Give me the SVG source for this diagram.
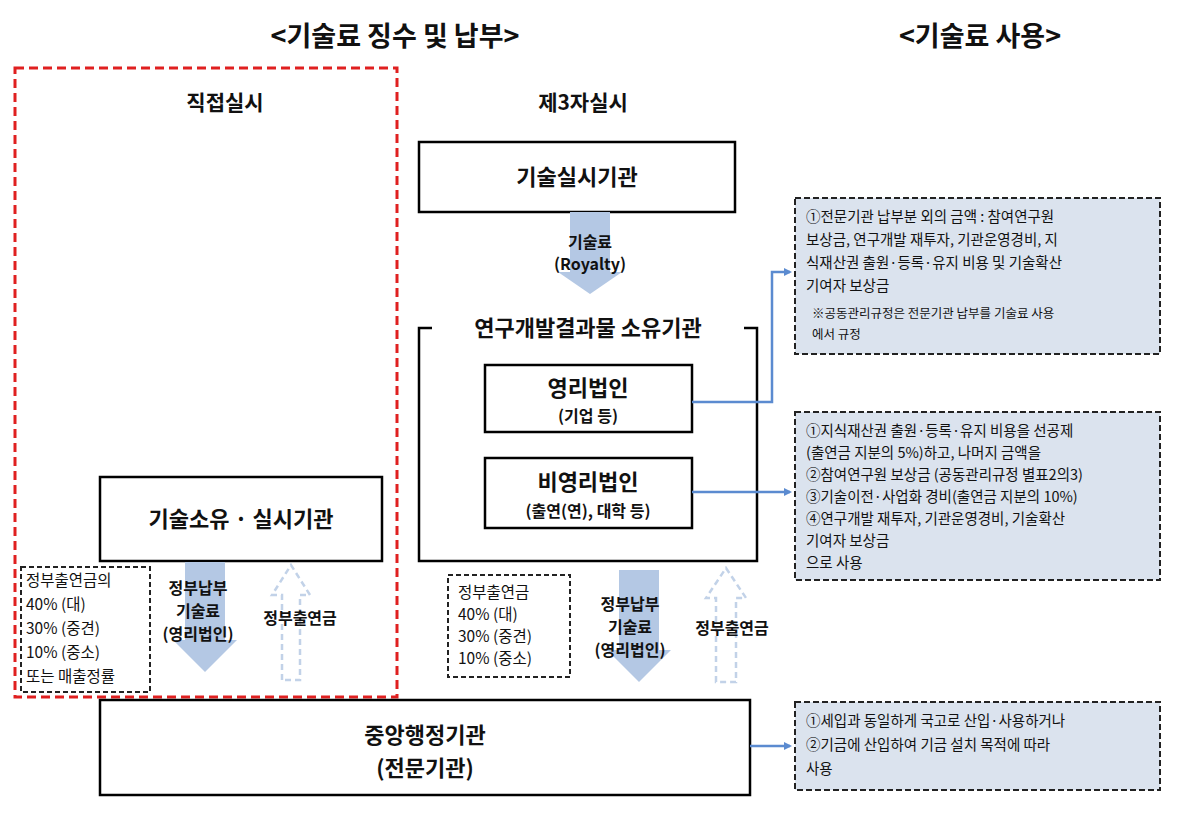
<svg xmlns="http://www.w3.org/2000/svg" width="1194" height="813" viewBox="0 0 1194 813">
<style>
text{font-family:"Noto Sans CJK KR","Liberation Sans",sans-serif;fill:#111}
.t{font-size:27px;font-weight:bold;text-anchor:middle}
.h{font-size:21px;font-weight:bold;text-anchor:middle}
.b{font-size:22px;font-weight:bold;text-anchor:middle}
.s{font-size:16px;font-weight:bold;text-anchor:middle}
.n{font-size:15.5px}
.m{font-size:14.5px}
.box{fill:#fff;stroke:#000;stroke-width:2.5}
.note{fill:#dbe3ee;stroke:#222;stroke-width:2;stroke-dasharray:6 3}
.dn{fill:#b4c8e4}
.up{fill:none;stroke:#c2d2e8;stroke-width:2.5;stroke-dasharray:6 4}
.con{fill:none;stroke:#5b8bd0;stroke-width:2.5}
</style>
<defs><marker id="a" markerWidth="8" markerHeight="8" refX="6" refY="4" orient="auto" markerUnits="userSpaceOnUse"><path d="M0,0L8,4L0,8z" fill="#5b8bd0"/></marker></defs>
<rect width="1194" height="813" fill="#fff"/>
<text class="t" x="395" y="46">&lt;기술료 징수 및 납부&gt;</text>
<text class="t" x="980" y="46">&lt;기술료 사용&gt;</text>
<rect x="15" y="68" width="382" height="629" fill="none" stroke="#e02020" stroke-width="3" stroke-dasharray="9 5"/>
<text class="h" x="225" y="110">직접실시</text>
<text class="h" x="583" y="110">제3자실시</text>
<g id="n1"><rect class="box" x="419" y="142" width="316" height="70"/><text class="b" x="577" y="185">기술실시기관</text></g>
<g id="ar1"><path class="dn" d="M570,212H610V272H622L590,294L558,272H570Z"/><text class="s" x="590" y="248">기술료</text><text class="s" x="590" y="270">(Royalty)</text></g>
<g id="n2"><rect class="box" x="419" y="328" width="338" height="233"/><rect x="432" y="314" width="312" height="30" fill="#fff"/><text class="b" x="588" y="336">연구개발결과물 소유기관</text></g>
<g id="n3"><rect class="box" x="485" y="365" width="207" height="67"/><text class="b" x="588" y="396">영리법인</text><text class="s" x="588" y="422">(기업 등)</text></g>
<g id="n4"><rect class="box" x="485" y="458" width="207" height="70"/><text class="b" x="588" y="490">비영리법인</text><text class="s" x="588" y="517">(출연(연), 대학 등)</text></g>
<g id="n5"><rect class="box" x="100" y="477" width="282" height="84"/><text class="b" x="241" y="527">기술소유 · 실시기관</text></g>
<g id="n6"><rect x="21" y="567" width="129" height="125" fill="#fff" stroke="#222" stroke-width="2" stroke-dasharray="5 3"/>
<text class="n" x="26" y="586">정부출연금의</text><text class="n" x="26" y="610">40% (대)</text><text class="n" x="26" y="634">30% (중견)</text><text class="n" x="26" y="658">10% (중소)</text><text class="n" x="26" y="682">또는 매출정률</text></g>
<g id="ar2"><path class="dn" d="M185,562H225V640H237L205,672L173,640H185Z"/><text class="s" x="198" y="594">정부납부</text><text class="s" x="198" y="617">기술료</text><text class="s" x="198" y="640">(영리법인)</text></g>
<g id="ar3"><path class="up" d="M282,680V595H272L291,565L310,595H300V680Z"/><text class="s" x="300" y="624">정부출연금</text></g>
<g id="n7"><rect x="448" y="575" width="122" height="102" fill="#fff" stroke="#222" stroke-width="2" stroke-dasharray="5 3"/>
<text class="n" x="458" y="598">정부출연금</text><text class="n" x="458" y="620">40% (대)</text><text class="n" x="458" y="642">30% (중견)</text><text class="n" x="458" y="664">10% (중소)</text></g>
<g id="ar4"><path class="dn" d="M619,570H659V650H671L639,682L607,650H619Z"/><text class="s" x="630" y="610">정부납부</text><text class="s" x="630" y="633">기술료</text><text class="s" x="630" y="656">(영리법인)</text></g>
<g id="ar5"><path class="up" d="M716,682V598H706L726,568L746,598H736V682Z"/><text class="s" x="732" y="634">정부출연금</text></g>
<g id="n8"><rect class="box" x="100" y="700" width="650" height="95"/><text class="b" x="425" y="743">중앙행정기관</text><text class="b" x="425" y="776">(전문기관)</text></g>
<g id="u1"><rect class="note" x="795" y="198" width="365" height="156"/>
<text class="m" x="806" y="222">①전문기관 납부분 외의 금액 : 참여연구원</text><text class="m" x="806" y="245">보상금, 연구개발 재투자, 기관운영경비, 지</text><text class="m" x="806" y="268">식재산권 출원·등록·유지 비용 및 기술확산</text><text class="m" x="806" y="291">기여자 보상금</text>
<text x="812" y="318" style="font-size:12.5px">※공동관리규정은  전문기관 납부를 기술료 사용</text><text x="812" y="339" style="font-size:12.5px">에서 규정</text></g>
<g id="u2"><rect class="note" x="795" y="412" width="365" height="168"/>
<text class="m" x="806" y="436">①지식재산권 출원·등록·유지 비용을 선공제</text><text class="m" x="806" y="458">(출연금 지분의 5%)하고, 나머지 금액을</text><text class="m" x="806" y="480">②참여연구원 보상금 (공동관리규정 별표2의3)</text><text class="m" x="806" y="502">③기술이전·사업화 경비(출연금 지분의 10%)</text><text class="m" x="806" y="524">④연구개발 재투자, 기관운영경비, 기술확산</text><text class="m" x="806" y="546">기여자 보상금</text><text class="m" x="806" y="568">으로 사용</text></g>
<g id="u3"><rect class="note" x="795" y="702" width="365" height="88"/>
<text class="m" x="806" y="726">①세입과 동일하게 국고로 산입·사용하거나</text><text class="m" x="806" y="750">②기금에 산입하여 기금 설치 목적에 따라</text><text class="m" x="806" y="774">사용</text></g>
<g id="connectors">
<path class="con" d="M692,402H772V272H790" marker-end="url(#a)"/>
<path class="con" d="M692,492H790" marker-end="url(#a)"/>
<path class="con" d="M750,746H790" marker-end="url(#a)"/>
</g>
</svg>
